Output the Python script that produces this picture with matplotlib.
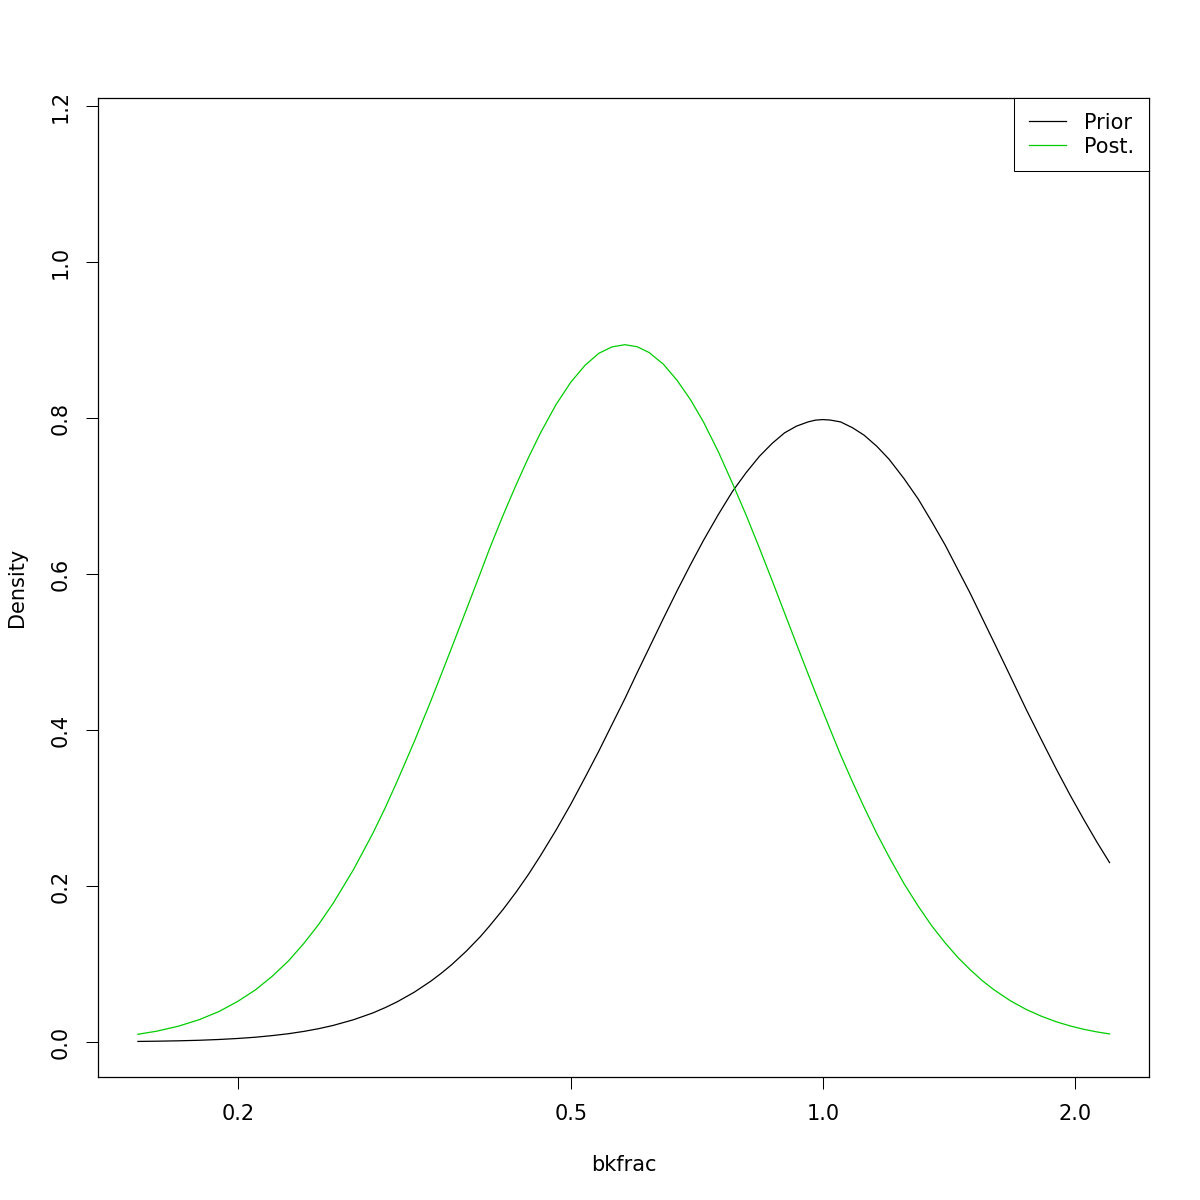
import matplotlib
matplotlib.use('Agg')

import numpy as np
import matplotlib.pyplot as plt

# values (x on log scale)
bkfrac = [0.152, 0.16, 0.17, 0.18, 0.19, 0.2, 0.21, 0.22, 0.23, 0.24, 0.25, 0.26,
          0.275, 0.29, 0.3, 0.31, 0.325, 0.34, 0.35, 0.36, 0.375, 0.39, 0.4, 0.415,
          0.43, 0.445, 0.46, 0.48, 0.5, 0.52, 0.54, 0.56, 0.58, 0.6, 0.62, 0.645,
          0.67, 0.695, 0.72, 0.75, 0.78, 0.81, 0.84, 0.87, 0.9, 0.93, 0.96, 0.98,
          1.0, 1.02, 1.05, 1.085, 1.12, 1.16, 1.2, 1.25, 1.3, 1.35, 1.4, 1.45, 1.5,
          1.55, 1.6, 1.675, 1.75, 1.825, 1.9, 1.975, 2.05, 2.125, 2.2]
prior = [0.0007, 0.001, 0.0015, 0.0022, 0.0032, 0.0045, 0.0061, 0.0082, 0.0106, 0.0136,
         0.0171, 0.0212, 0.0285, 0.0372, 0.044, 0.0514, 0.0638, 0.0778, 0.088, 0.0988,
         0.1164, 0.1353, 0.149, 0.17, 0.192, 0.2149, 0.239, 0.2716, 0.305, 0.3393,
         0.373, 0.4072, 0.44, 0.4735, 0.505, 0.5432, 0.579, 0.6122, 0.643, 0.6762,
         0.706, 0.7302, 0.751, 0.7676, 0.781, 0.7896, 0.795, 0.7973, 0.798, 0.7974,
         0.795, 0.7875, 0.778, 0.7637, 0.747, 0.7223, 0.696, 0.6665, 0.637, 0.6054,
         0.575, 0.5434, 0.513, 0.4687, 0.426, 0.3869, 0.35, 0.316, 0.285, 0.2562, 0.23]
post = [0.0099, 0.0138, 0.0203, 0.0287, 0.0391, 0.052, 0.0668, 0.0844, 0.104, 0.1266,
        0.151, 0.1777, 0.221, 0.2674, 0.3, 0.3339, 0.385, 0.4366, 0.471, 0.5047,
        0.554, 0.6017, 0.633, 0.6754, 0.714, 0.7494, 0.781, 0.8172, 0.846, 0.8677,
        0.883, 0.8912, 0.894, 0.8914, 0.884, 0.8689, 0.848, 0.8233, 0.795, 0.7569,
        0.716, 0.6751, 0.633, 0.5912, 0.55, 0.5102, 0.472, 0.4475, 0.424, 0.401,
        0.368, 0.3333, 0.301, 0.2671, 0.237, 0.203, 0.174, 0.1485, 0.127, 0.1082,
        0.0925, 0.0787, 0.0671, 0.0528, 0.0416, 0.0329, 0.0259, 0.0205, 0.0162,
        0.0129, 0.0103]

xticks = [0.2, 0.5, 1.0, 2.0]
xticklabels = ["0.2", "0.5", "1.0", "2.0"]
yticks = [0.0, 0.2, 0.4, 0.6, 0.8, 1.0, 1.2]
yticklabels = ["0.0", "0.2", "0.4", "0.6", "0.8", "1.0", "1.2"]

fig = plt.figure(figsize=(12, 12), dpi=100)
ax = fig.add_axes([98 / 1200, 1 - 1077 / 1200, (1149 - 98) / 1200, (1077 - 98) / 1200])

ax.plot(bkfrac, prior, color="black", lw=0.9, label="Prior")
ax.plot(bkfrac, post, color="#00CD00", lw=0.9, label="Post.")

ax.set_xscale("log")
ax.set_xlim(0.1362, 2.452)
ax.set_ylim(-0.0449, 1.2103)
ax.set_xticks(xticks)
ax.set_xticklabels(xticklabels)
ax.minorticks_off()
ax.set_yticks(yticks)
ax.set_yticklabels(yticklabels, rotation=90, va="center")
ax.tick_params(axis="both", direction="out", length=8.6, width=0.75, labelsize=15, pad=11)

for s in ax.spines.values():
    s.set_linewidth(0.9)

ax.set_xlabel("bkfrac", fontsize=15, labelpad=22)
ax.set_ylabel("Density", fontsize=15, labelpad=17)

leg = ax.legend(loc="upper right", bbox_to_anchor=(1, 1), borderaxespad=0, fontsize=15,
                fancybox=False, edgecolor="black", framealpha=1, handlelength=1.77,
                handletextpad=0.9, labelspacing=0.2, borderpad=0.7)
leg.get_frame().set_linewidth(0.75)

fig.savefig("out.png", dpi=100)
